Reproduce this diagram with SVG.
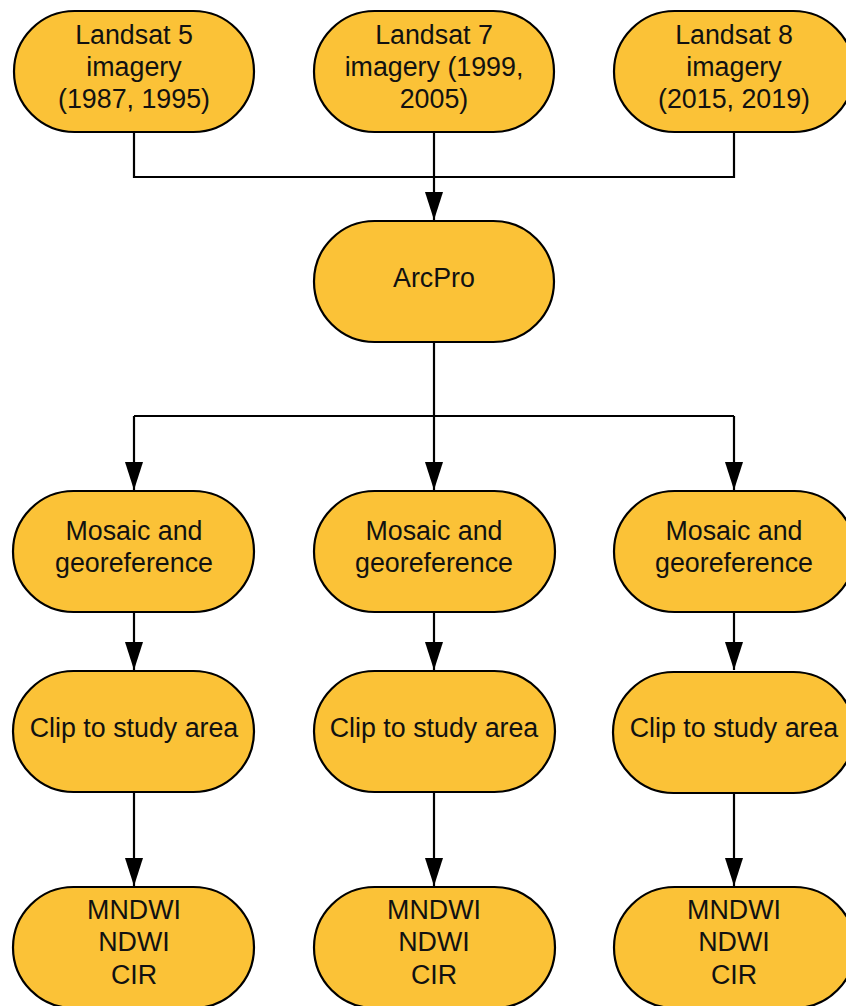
<svg xmlns="http://www.w3.org/2000/svg" width="846" height="1006" viewBox="0 0 846 1006">
<style>
.n{fill:#FBC237;stroke:#000;stroke-width:2.2}
.t{font-family:"Liberation Sans",Arial,sans-serif;font-size:26.8px;fill:#111;text-anchor:middle}
.c{fill:none;stroke:#000;stroke-width:2.2}
</style>
<defs>
<marker id="ah" markerUnits="userSpaceOnUse" markerWidth="28" markerHeight="18" refX="28" refY="9" orient="auto">
<path d="M0,0 L28,9 L0,18 Z" fill="#000"/>
</marker>
</defs>
<rect width="846" height="1006" fill="#fff"/>
<g id="connectors">
<path class="c" d="M134,132 V177 H734 V132"/>
<path class="c" d="M434,132 V220" marker-end="url(#ah)"/>
<path class="c" d="M434,342 V416"/>
<path class="c" d="M134,416 H734"/>
<path class="c" d="M134,416 V490" marker-end="url(#ah)"/>
<path class="c" d="M434,416 V490" marker-end="url(#ah)"/>
<path class="c" d="M734,416 V490" marker-end="url(#ah)"/>
<path class="c" d="M134,612 V670" marker-end="url(#ah)"/>
<path class="c" d="M434,612 V670" marker-end="url(#ah)"/>
<path class="c" d="M734,612 V670" marker-end="url(#ah)"/>
<path class="c" d="M134,792 V886" marker-end="url(#ah)"/>
<path class="c" d="M434,792 V886" marker-end="url(#ah)"/>
<path class="c" d="M734,792 V886" marker-end="url(#ah)"/>
</g>
<g id="landsat5"><rect class="n" x="14" y="11" width="240" height="121" rx="60.5"/><text class="t" x="134" y="44">Landsat 5</text><text class="t" x="134" y="76">imagery</text><text class="t" x="134" y="108">(1987, 1995)</text></g>
<g id="landsat7"><rect class="n" x="314" y="11" width="240" height="121" rx="60.5"/><text class="t" x="434" y="44">Landsat 7</text><text class="t" x="434" y="76">imagery (1999,</text><text class="t" x="434" y="108">2005)</text></g>
<g id="landsat8"><rect class="n" x="614" y="11" width="240" height="121" rx="60.5"/><text class="t" x="734" y="44">Landsat 8</text><text class="t" x="734" y="76">imagery</text><text class="t" x="734" y="108">(2015, 2019)</text></g>
<g id="arcpro"><rect class="n" x="314" y="221" width="240" height="121" rx="60.5"/><text class="t" x="434" y="287">ArcPro</text></g>
<g id="mosaic1"><rect class="n" x="13" y="491" width="241" height="121" rx="60.5"/><text class="t" x="134" y="540">Mosaic and</text><text class="t" x="134" y="572">georeference</text></g>
<g id="mosaic2"><rect class="n" x="314" y="491" width="241" height="121" rx="60.5"/><text class="t" x="434" y="540">Mosaic and</text><text class="t" x="434" y="572">georeference</text></g>
<g id="mosaic3"><rect class="n" x="614" y="491" width="241" height="121" rx="60.5"/><text class="t" x="734" y="540">Mosaic and</text><text class="t" x="734" y="572">georeference</text></g>
<g id="clip1"><rect class="n" x="13" y="671" width="241" height="121" rx="60.5"/><text class="t" x="134" y="737">Clip to study area</text></g>
<g id="clip2"><rect class="n" x="314" y="671" width="241" height="121" rx="60.5"/><text class="t" x="434" y="737">Clip to study area</text></g>
<g id="clip3"><rect class="n" x="613" y="672" width="241" height="121" rx="60.5"/><text class="t" x="734" y="737">Clip to study area</text></g>
<g id="idx1"><rect class="n" x="13" y="887" width="241" height="121" rx="60.5"/><text class="t" x="134" y="919">MNDWI</text><text class="t" x="134" y="951">NDWI</text><text class="t" x="134" y="984">CIR</text></g>
<g id="idx2"><rect class="n" x="314" y="887" width="241" height="121" rx="60.5"/><text class="t" x="434" y="919">MNDWI</text><text class="t" x="434" y="951">NDWI</text><text class="t" x="434" y="984">CIR</text></g>
<g id="idx3"><rect class="n" x="614" y="887" width="241" height="121" rx="60.5"/><text class="t" x="734" y="919">MNDWI</text><text class="t" x="734" y="951">NDWI</text><text class="t" x="734" y="984">CIR</text></g>
</svg>
